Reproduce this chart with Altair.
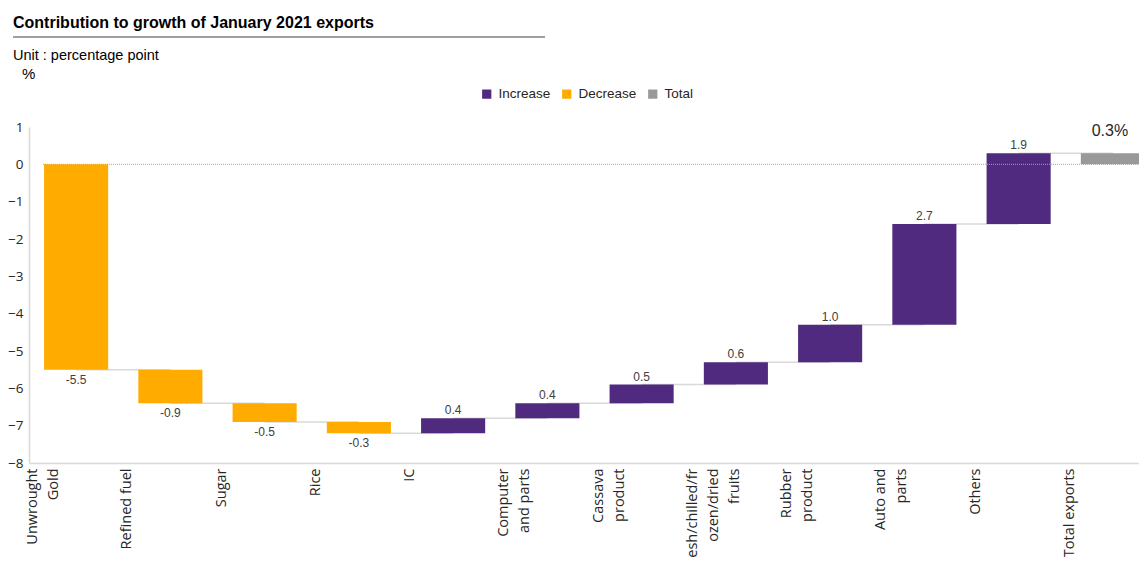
import altair as alt
import pandas as pd

categories = [
    "Unwrought\nGold", "Refined fuel", "Sugar", "Rice", "IC",
    "Computer\nand parts", "Cassava\nproduct",
    "fresh/chilled/fr\nozen/dried\nfruits", "Rubber\nproduct",
    "Auto and\nparts", "Others", "Total exports",
]
values = [-5.5, -0.9, -0.5, -0.3, 0.4, 0.4, 0.5, 0.6, 1.0, 2.7, 1.9, 0.3]
kinds = ["Decrease", "Decrease", "Decrease", "Decrease", "Increase", "Increase",
         "Increase", "Increase", "Increase", "Increase", "Increase", "Total"]
value_labels = ["-5.5", "-0.9", "-0.5", "-0.3", "0.4", "0.4", "0.5", "0.6",
                "1.0", "2.7", "1.9", "0.3%"]
legend_items = ["Increase", "Decrease", "Total"]
legend_colors = ["#4F2A7E", "#FFAB00", "#999999"]
y_ticks = [1, 0, -1, -2, -3, -4, -5, -6, -7, -8]

# waterfall bookkeeping
rows = []
running = 0.0
for cat, v, k, lab in zip(categories, values, kinds, value_labels):
    if k == "Total":
        start, end = 0.0, v
    else:
        start = running
        end = round(running + v, 4)
        running = end
    rows.append(dict(cat=cat, start=start, end=end, kind=k, label=lab,
                     top=max(start, end), bottom=min(start, end), value=v))
df = pd.DataFrame(rows)

conn = pd.DataFrame([
    dict(cat=categories[i], nxt=categories[i + 1], level=rows[i]["end"])
    for i in range(len(categories) - 1)
])

W, H = 1110, 336
x_scale = alt.Scale(domain=categories, range=[0, 1131],
                    paddingInner=0.32, paddingOuter=0.16)
y_scale = alt.Scale(domain=[-8, 1], nice=False, zero=False)

x_axis = alt.Axis(labelAngle=-90, labelExpr="split(datum.label, '\\n')",
                  labelFont="Open Sans", labelFontSize=14.5,
                  labelLineHeight=21, labelColor="#262626",
                  labelOffset=-43, labelPadding=5, labelLimit=300,
                  labelOverlap=False,
                  ticks=False, domainColor="#d9d9d9", domainWidth=1.5,
                  labelAlign="right", labelBaseline="middle")
y_axis = alt.Axis(values=y_ticks, grid=False, ticks=False,
                  labelOverlap=False,
                  labelFont="Open Sans", labelFontSize=13.5,
                  labelColor="#262626", labelPadding=6,
                  domainColor="#d9d9d9", domainWidth=1.5)

def xe():
    return alt.X("cat:N", sort=categories, scale=x_scale, title=None, axis=x_axis)

def ye(field):
    return alt.Y(field, scale=y_scale, title=None, axis=y_axis)

base = alt.Chart(df)

connectors = alt.Chart(conn).mark_rule(color="#d9d9d9", strokeWidth=1.5).encode(
    x=xe(),
    x2="nxt:N",
    y=ye("level:Q"),
)

bars = base.mark_bar().encode(
    x=xe(),
    y=ye("start:Q"),
    y2="end:Q",
    color=alt.Color("kind:N", scale=alt.Scale(domain=legend_items, range=legend_colors),
                    legend=alt.Legend(title=None, orient="none", direction="horizontal",
                                      legendX=451, legendY=-40, symbolType="square",
                                      symbolSize=85, symbolStrokeWidth=0,
                                      labelFont="Liberation Sans", labelFontSize=13.5,
                                      labelColor="#262626", labelOffset=5,
                                      columnPadding=9, padding=0)),
)

zero_line = alt.Chart(pd.DataFrame({"z": [0]})).mark_rule(
    color="#a6a6a6", strokeDash=[1, 1], strokeWidth=1
).encode(y=ye("z:Q"), x=alt.value(14), x2=alt.value(1131))

neg_labels = base.transform_filter("datum.kind == 'Decrease'").mark_text(
    baseline="top", dy=5, font="Liberation Sans", fontSize=12, color="#404040"
).encode(x=xe(), y=ye("bottom:Q"), text="label:N")

pos_labels = base.transform_filter("datum.kind == 'Increase'").mark_text(
    baseline="alphabetic", dy=-4, font="Liberation Sans", fontSize=12, color="#404040"
).encode(x=xe(), y=ye("top:Q"), text="label:N")

tot_label = base.transform_filter("datum.kind == 'Total'").mark_text(
    baseline="alphabetic", dy=-17, dx=-3, font="Liberation Sans", fontSize=16, color="#262626"
).encode(x=xe(), y=ye("top:Q"), text="label:N")

ann = pd.DataFrame({"t": [
    "Contribution to growth of January 2021 exports",
    "Unit : percentage point",
    "%",
]})

title_txt = alt.Chart(ann).transform_filter(alt.datum.t == "Contribution to growth of January 2021 exports").mark_text(
    align="left", baseline="alphabetic", font="Liberation Sans", fontSize=16,
    fontWeight="bold", color="#000000"
).encode(x=alt.value(-16), y=alt.value(-99), text="t:N")

unit_txt = alt.Chart(ann).transform_filter(alt.datum.t == "Unit : percentage point").mark_text(
    align="left", baseline="alphabetic", font="Liberation Sans", fontSize=14.5, color="#000000"
).encode(x=alt.value(-16), y=alt.value(-67), text="t:N")

pct_txt = alt.Chart(ann).transform_filter(alt.datum.t == "%").mark_text(
    align="left", baseline="alphabetic", font="Liberation Sans", fontSize=15, color="#000000"
).encode(x=alt.value(-7), y=alt.value(-48), text="t:N")

underline = alt.Chart(ann).transform_filter(alt.datum.t == "%").mark_rule(
    color="#404040", strokeWidth=1
).encode(x=alt.value(-16), x2=alt.value(516), y=alt.value(-90))

chart = alt.layer(
    connectors, bars, zero_line, neg_labels, pos_labels, tot_label,
    title_txt, unit_txt, pct_txt, underline,
).properties(
    width=W, height=H,
    background="white",
    autosize=alt.AutoSizeParams(type="none"),
    padding={"left": 21, "top": 119, "right": 0, "bottom": 94},
).configure_view(stroke=None, strokeWidth=0)

chart.save("out.html", embed_options={"renderer": "svg", "actions": False})
